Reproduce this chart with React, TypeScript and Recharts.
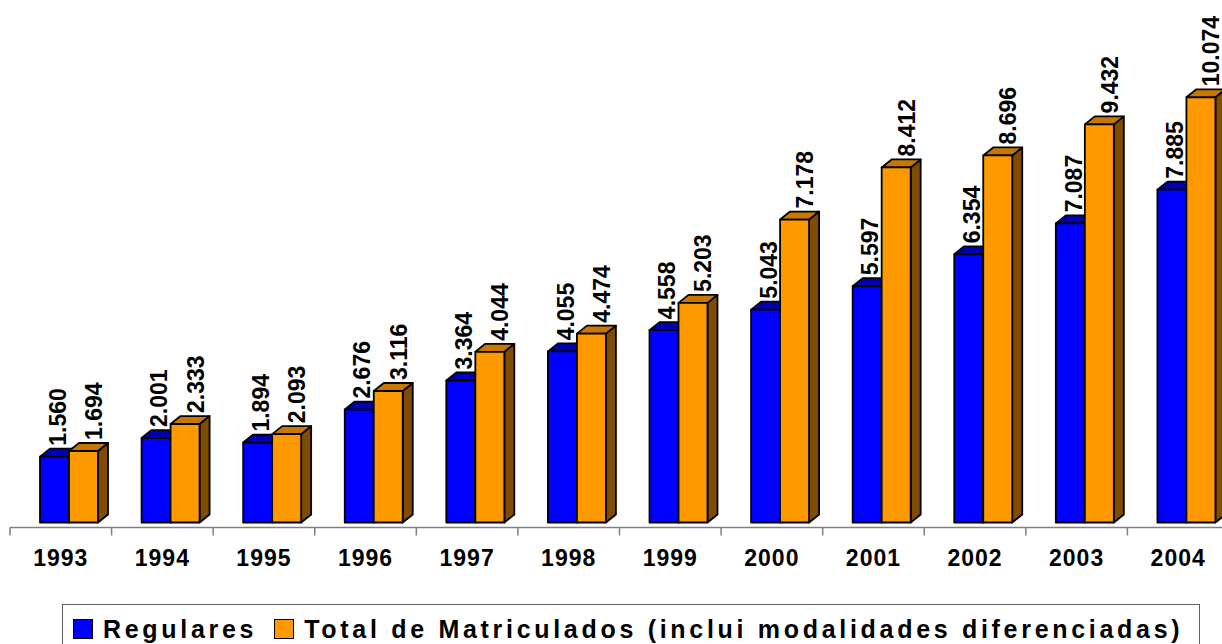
import React from "react";
import { BarChart, Bar, XAxis, YAxis, Legend, LabelList } from "recharts";

const years = ["1993", "1994", "1995", "1996", "1997", "1998", "1999", "2000", "2001", "2002", "2003", "2004"];
const regulares = [1560, 2001, 1894, 2676, 3364, 4055, 4558, 5043, 5597, 6354, 7087, 7885];
const totalMatriculados = [1694, 2333, 2093, 3116, 4044, 4474, 5203, 7178, 8412, 8696, 9432, 10074];
const seriesNames = ["Regulares", "Total de Matriculados (inclui modalidades diferenciadas)"];

const data = years.map((year, i) => ({
  year,
  regulares: regulares[i],
  total: totalMatriculados[i],
}));

const FONT = '"Liberation Sans", Arial, sans-serif';
// 3d look: front face shifted right / lifted, depth to the upper right
const SHIFT = 8;
const LIFT = 5;
const DX = 10;
const DY = 8;

const BLUE = { front: "#0000FF", top: "#0000B0", side: "#00007A" };
const ORANGE = { front: "#FF9900", top: "#C87800", side: "#7F4C00" };

const fmt = (v: number) => Math.floor(v / 1000) + "." + String(v % 1000).padStart(3, "0");

function Bar3D(props: any) {
  const { x, y, width, height, colors } = props;
  if (height == null || isNaN(height)) return null;
  const fx = x + SHIFT;
  const fy = y - LIFT;
  const x2 = fx + width;
  const y2 = fy + height;
  return (
    <g stroke="#000" strokeWidth={1.8} strokeLinejoin="round">
      <polygon points={`${x2},${fy} ${x2 + DX},${fy - DY} ${x2 + DX},${y2 - DY} ${x2},${y2}`} fill={colors.side} />
      <polygon points={`${fx},${fy} ${fx + DX},${fy - DY} ${x2 + DX},${fy - DY} ${x2},${fy}`} fill={colors.top} />
      <rect x={fx} y={fy} width={width} height={height} fill={colors.front} />
    </g>
  );
}

function makeLabel(dxBase: number) {
  return (props: any) => {
    const vb = props.viewBox ?? props;
    const x = vb.x ?? props.x;
    const y = vb.y ?? props.y;
    if (x == null || y == null) return null;
    const bx = x + SHIFT + dxBase;
    const by = y - LIFT - 11;
    return (
      <text
        x={bx}
        y={by}
        transform={`rotate(-90 ${bx} ${by})`}
        textAnchor="start"
        fontFamily={FONT}
        fontWeight="bold"
        fontSize={23}
        fill="#000"
      >
        {fmt(Number(props.value))}
      </text>
    );
  };
}

function YearTick(props: any) {
  const { x, y, payload, index } = props;
  const half = payload?.offset ?? 50.8;
  return (
    <g>
      <line x1={x - half} y1={y} x2={x - half} y2={y + 8} stroke="#808080" strokeWidth={1.5} />
      {index === years.length - 1 && (
        <line x1={x + half} y1={y} x2={x + half} y2={y + 8} stroke="#808080" strokeWidth={1.5} />
      )}
      <text x={x} y={y + 38} textAnchor="middle" fontFamily={FONT} fontWeight="bold" fontSize={23} letterSpacing={1} fill="#000">
        {payload.value}
      </text>
    </g>
  );
}

function LegendBox() {
  const item = (color: string, label: string, gap: number) => (
    <span style={{ display: "inline-flex", alignItems: "center", marginRight: gap }}>
      <span
        style={{
          display: "inline-block",
          width: 18,
          height: 18,
          background: color,
          border: "1.5px solid #000",
          marginRight: 10,
        }}
      />
      <span>{label}</span>
    </span>
  );
  return (
    <div
      style={{
        boxSizing: "border-box",
        width: 1138,
        height: 60,
        border: "1.5px solid #606060",
        borderBottom: "none",
        paddingLeft: 10,
        paddingTop: 10,
        fontFamily: FONT,
        fontWeight: "bold",
        fontSize: 25,
        letterSpacing: 3.7,
        color: "#000",
        whiteSpace: "nowrap",
        lineHeight: "28px",
        textAlign: "left",
      }}
    >
      {item(BLUE.front, seriesNames[0], 17)}
      {item(ORANGE.front, seriesNames[1], 0)}
    </div>
  );
}

export default function App() {
  return (
    <div style={{ position: "absolute", left: 0, top: 0, width: 1222, height: 644, overflow: "hidden", background: "#fff" }}>
      <BarChart
        width={1230}
        height={644}
        data={data}
        margin={{ top: 21, right: 1, left: 10, bottom: 76.5 }}
        barGap={0}
        barSize={29}
      >
        <XAxis
          dataKey="year"
          height={40}
          axisLine={{ stroke: "#808080", strokeWidth: 1.5 }}
          tickLine={false}
          tickSize={0}
          tickMargin={0}
          tick={<YearTick />}
          interval={0}
        />
        <YAxis hide domain={[0, 12000]} />
        <Legend
          layout="horizontal"
          verticalAlign="middle"
          align="center"
          wrapperStyle={{ position: "absolute", left: 62, top: 604, width: 1138, height: 60 }}
          content={<LegendBox />}
        />
        <Bar dataKey="regulares" isAnimationActive={false} shape={(p: any) => <Bar3D {...p} colors={BLUE} />}>
          <LabelList dataKey="regulares" content={makeLabel(25.7)} />
        </Bar>
        <Bar dataKey="total" isAnimationActive={false} shape={(p: any) => <Bar3D {...p} colors={ORANGE} />}>
          <LabelList dataKey="total" content={makeLabel(33)} />
        </Bar>
      </BarChart>
    </div>
  );
}
